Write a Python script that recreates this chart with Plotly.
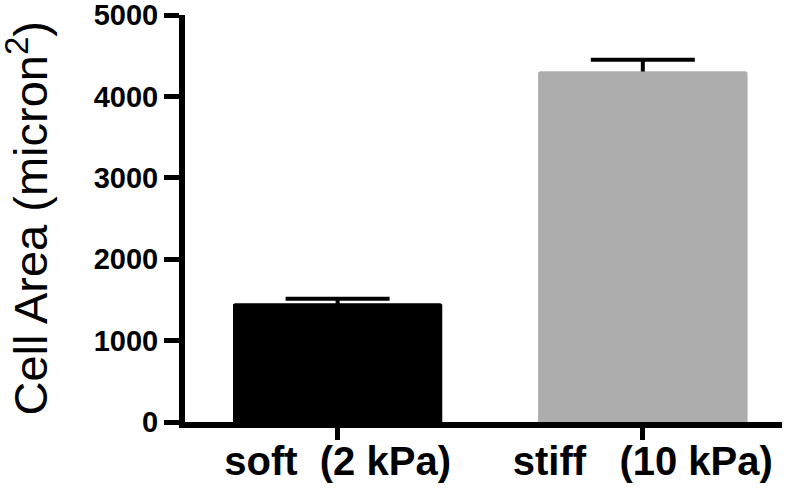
import plotly.graph_objects as go

# bar chart of cell area on soft vs stiff substrate
categories = ["soft\u00a0\u00a0(2 kPa)", "stiff\u00a0\u00a0\u00a0(10 kPa)"]
cell_area = [1455, 4305]
sem = [58, 145]
bar_colors = ["black", "#adadad"]
yticks = [0, 1000, 2000, 3000, 4000, 5000]

xpos = list(range(len(categories)))
FONT = "Liberation Sans, Arial, Helvetica"

fig = go.Figure()
# first copy carries the error bars, second copy hides the lower half of them
fig.add_trace(go.Bar(
    x=xpos, y=cell_area, width=0.685,
    marker=dict(color=bar_colors, line=dict(width=0), cornerradius=2),
    error_y=dict(type="data", array=sem, color="black", thickness=4, width=52),
    showlegend=False, hoverinfo="skip",
))
fig.add_trace(go.Bar(
    x=xpos, y=cell_area, width=0.685,
    marker=dict(color=bar_colors, line=dict(width=0), cornerradius=2),
    showlegend=False,
))

fig.update_xaxes(range=[-0.5, 1.456], tickvals=xpos, ticktext=categories,
                 showline=True, linewidth=6, linecolor="black",
                 ticks="outside", ticklen=12, tickwidth=5, tickcolor="black",
                 showgrid=False, zeroline=False, automargin=False,
                 ticklabeloverflow="allow", ticklabelstandoff=-13,
                 tickfont=dict(family=FONT, size=40, color="black", weight="bold"))
fig.update_yaxes(range=[0, 5000], tickvals=yticks,
                 showline=True, linewidth=6, linecolor="black",
                 ticks="outside", ticklen=15, tickwidth=5, tickcolor="black",
                 showgrid=False, zeroline=False, automargin=False,
                 ticklabeloverflow="allow",
                 tickfont=dict(family=FONT, size=29, color="black", weight="bold"))

fig.add_annotation(text="Cell Area (micron<sup>2</sup>)", textangle=-90,
                   xref="paper", yref="paper", x=0, y=0.5, xshift=-158,
                   xanchor="center", yanchor="middle", showarrow=False,
                   font=dict(family=FONT, size=47, color="black"))

fig.update_layout(width=796, height=490, plot_bgcolor="white", paper_bgcolor="white",
                  barmode="overlay", margin=dict(l=185, r=14, t=15, b=68))

fig.write_html("out.html", config={"displayModeBar": False},
               post_script="document.body.style.margin = '0px';")
